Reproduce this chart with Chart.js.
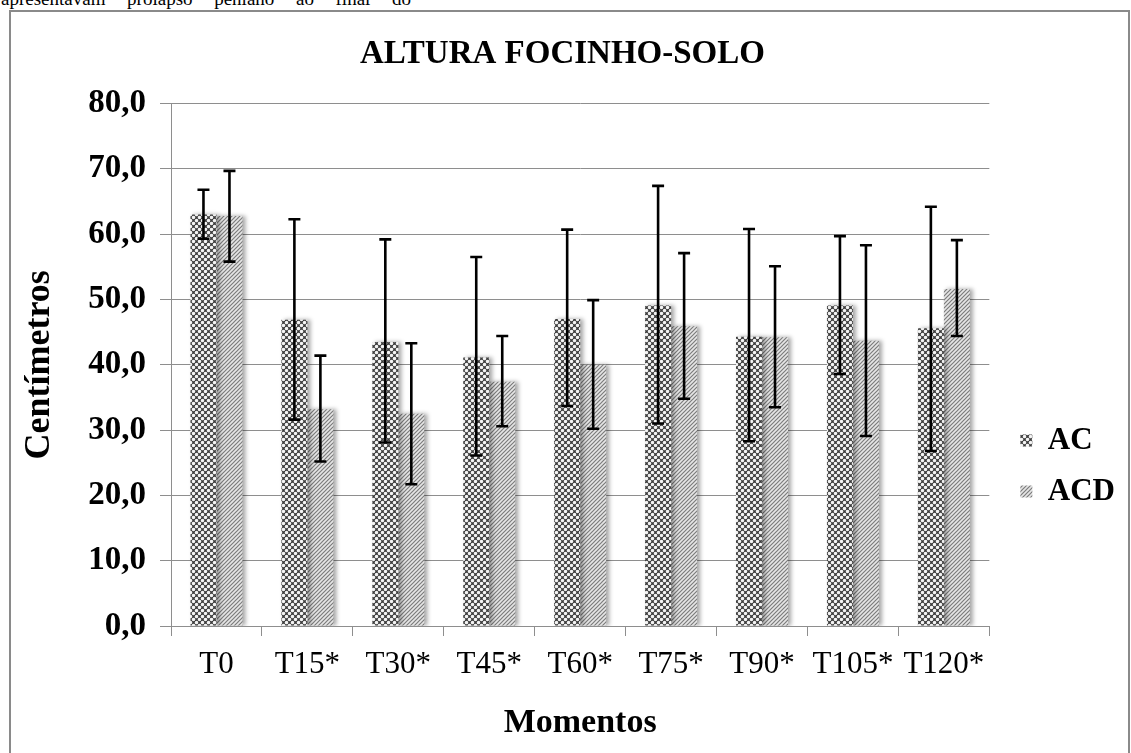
<!DOCTYPE html>
<html>
<head>
<meta charset="utf-8">
<script src="https://cdn.jsdelivr.net/npm/chart.js@4.4.0/dist/chart.umd.min.js"></script>
<style>
  html, body { margin: 0; padding: 0; background: #fff; overflow: hidden; width: 1131px; height: 753px; }
  #topline { position: absolute; left: 1px; top: -11px; width: 410px; font: 19px 'Liberation Serif', serif; line-height: 20px; text-align: justify; text-align-last: justify; color: #000; white-space: nowrap; }
  #frame { position: absolute; left: 9px; top: 10px; width: 1117px; height: 800px; border: 2px solid #8a8a8a; box-sizing: content-box; }
  #wrap { position: absolute; left: 0; top: 0; width: 1131px; height: 932px; }
</style>
</head>
<body>
<div id="topline">apresentavam prolapso peniano ao final do</div>
<div id="frame"></div>
<div id="wrap"><canvas id="c" width="1131" height="932"></canvas></div>
<script>
const categories = ['T0', 'T15*', 'T30*', 'T45*', 'T60*', 'T75*', 'T90*', 'T105*', 'T120*'];
const acMeans = [63.0, 46.9, 43.5, 41.1, 47.0, 49.1, 44.3, 49.1, 45.6];
const acHigh  = [66.8, 62.3, 59.2, 56.5, 60.7, 67.4, 60.8, 59.7, 64.2];
const acLow   = [59.3, 31.6, 28.1, 26.1, 33.7, 31.0, 28.3, 38.6, 26.8];
const acdMeans = [62.8, 33.2, 32.5, 37.4, 40.0, 45.9, 44.2, 43.7, 51.6];
const acdHigh  = [69.7, 41.4, 43.3, 44.4, 49.9, 57.1, 55.1, 58.3, 59.1];
const acdLow   = [55.8, 25.2, 21.7, 30.6, 30.2, 34.8, 33.5, 29.1, 44.4];
const yTickLabels = ['0,0', '10,0', '20,0', '30,0', '40,0', '50,0', '60,0', '70,0', '80,0'];

function dotPattern() {
  const c = document.createElement('canvas');
  c.width = 6; c.height = 6;
  const g = c.getContext('2d');
  g.fillStyle = '#3a3a3a';
  g.fillRect(0, 0, 6, 6);
  g.fillStyle = '#f4f4f4';
  [[1.5, 1.5], [4.5, 4.5], [-1.5, 4.5], [7.5, 1.5], [4.5, -1.5], [1.5, 7.5]].forEach(p => {
    g.beginPath(); g.arc(p[0], p[1], 1.75, 0, Math.PI * 2); g.fill();
  });
  return g.createPattern(c, 'repeat');
}
function hatchPattern() {
  const c = document.createElement('canvas');
  c.width = 4; c.height = 4;
  const g = c.getContext('2d');
  g.fillStyle = '#e6e6e6';
  g.fillRect(0, 0, 4, 4);
  g.strokeStyle = '#7c7c7c';
  g.lineWidth = 1.2;
  [[0, 4, 4, 0], [-1, 1, 1, -1], [3, 5, 5, 3]].forEach(l => {
    g.beginPath(); g.moveTo(l[0], l[1]); g.lineTo(l[2], l[3]); g.stroke();
  });
  return g.createPattern(c, 'repeat');
}

const serif = "'Liberation Serif', 'Times New Roman', serif";
const gridColor = '#8e8e8e';

const errorBars = {
  id: 'errorBars',
  beforeDatasetsDraw(chart) {
    const ctx = chart.ctx;
    ctx.save();
    ctx.shadowColor = 'rgba(0,0,0,0.35)';
    ctx.shadowBlur = 4;
    ctx.shadowOffsetX = 3;
    ctx.shadowOffsetY = 0;
  },
  afterDatasetsDraw(chart) {
    const ctx = chart.ctx;
    ctx.restore();
    const ys = chart.scales.y;
    ctx.save();
    ctx.strokeStyle = '#000';
    ctx.lineWidth = 2.6;
    chart.data.datasets.forEach((ds, d) => {
      const meta = chart.getDatasetMeta(d);
      meta.data.forEach((el, i) => {
        const x = el.x;
        const yh = ys.getPixelForValue(ds.errHigh[i]);
        const yl = ys.getPixelForValue(ds.errLow[i]);
        ctx.beginPath();
        ctx.moveTo(x, yh); ctx.lineTo(x, yl);
        ctx.moveTo(x - 6, yh); ctx.lineTo(x + 6, yh);
        ctx.moveTo(x - 6, yl); ctx.lineTo(x + 6, yl);
        ctx.stroke();
      });
    });
    ctx.restore();
  }
};

Chart.defaults.color = '#000';
Chart.defaults.font.family = serif;

new Chart(document.getElementById('c'), {
  type: 'bar',
  data: {
    labels: categories,
    datasets: [
      { label: 'AC', data: acMeans, errHigh: acHigh, errLow: acLow, backgroundColor: dotPattern(), borderWidth: 0, yAxisID: 'y' },
      { label: 'ACD', data: acdMeans, errHigh: acdHigh, errLow: acdLow, backgroundColor: hatchPattern(), borderWidth: 0, yAxisID: 'y' }
    ]
  },
  options: {
    responsive: false,
    devicePixelRatio: 1,
    animation: false,
    layout: { padding: { left: 0, right: 6, top: 0, bottom: 0 } },
    datasets: { bar: { barPercentage: 1.0, categoryPercentage: 0.572 } },
    plugins: {
      title: {
        display: true,
        text: 'ALTURA FOCINHO-SOLO',
        font: { family: serif, size: 33, weight: 'bold' },
        color: '#000',
        padding: { top: 35, bottom: 29 }
      },
      legend: {
        position: 'right',
        align: 'center',
        labels: {
          font: { family: serif, size: 31, weight: 'bold' },
          color: '#000',
          boxWidth: 12,
          boxHeight: 12,
          padding: 20
        }
      },
      tooltip: { enabled: false }
    },
    scales: {
      x: {
        grid: { display: true, drawOnChartArea: false, drawTicks: true, tickLength: 10, color: gridColor, offset: true },
        border: { display: true, color: gridColor, width: 1 },
        ticks: { font: { family: serif, size: 31 }, color: '#000', padding: 10, maxRotation: 0, autoSkip: false },
        title: { display: true, text: 'Momentos', font: { family: serif, size: 34, weight: 'bold' }, color: '#000', padding: { top: 10, bottom: 188 } }
      },
      y: {
        min: 0, max: 80,
        grid: { color: gridColor, tickLength: 11, drawTicks: true },
        border: { display: true, color: gridColor, width: 1 },
        ticks: { stepSize: 10, font: { family: serif, size: 33, weight: 'bold' }, color: '#000', padding: 14,
          callback: (v, i) => yTickLabels[i] },
        title: { display: true, text: 'Centímetros', font: { family: serif, size: 36, weight: 'bold' }, color: '#000', padding: { top: 18, bottom: 0 } },
        afterFit: s => { s.width = 171; }
      },
      y2: {
        position: 'right',
        display: true,
        grid: { display: false, drawTicks: false },
        border: { display: false },
        ticks: { display: false },
        afterFit: s => { s.width = 11; }
      }
    }
  },
  plugins: [errorBars]
});
</script>
</body>
</html>
